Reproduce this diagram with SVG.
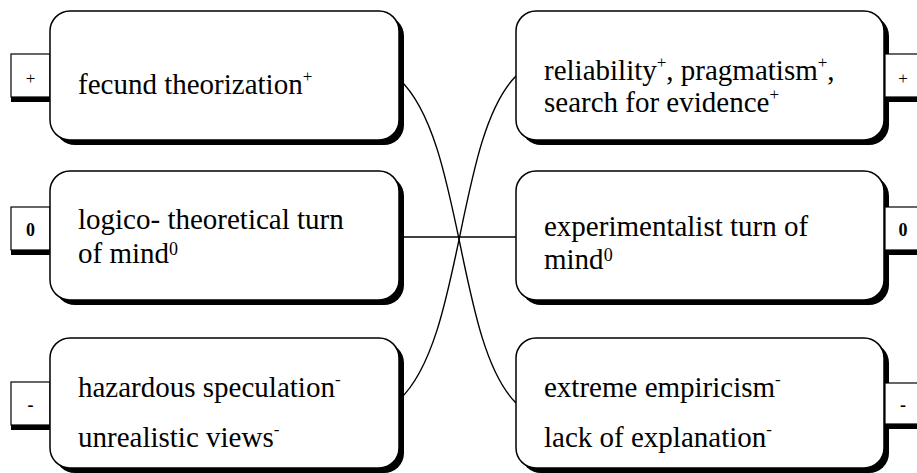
<svg xmlns="http://www.w3.org/2000/svg" width="917" height="473" viewBox="0 0 917 473">
<style>
.bg{fill:#fff}
.box{fill:#fff;stroke:#000;stroke-width:1.5}
.shd{fill:#000}
.lab{fill:#fff;stroke:#000;stroke-width:1.2}
.con{fill:none;stroke:#000;stroke-width:1.4}
text{font-family:"Liberation Serif","Times New Roman",Times,"Noto Serif","DejaVu Serif",serif;fill:#000}
.t{font-size:29px}
.sp{font-size:17px}
.s0{font-size:18px}
.l{font-size:17px;text-anchor:middle}
.b{font-weight:bold;font-size:18px}
</style>
<rect class="bg" x="0" y="0" width="917" height="473"/>
<g id="connectors">
<path class="con" d="M399,79 C464,139 456,343 516,403"/>
<path class="con" d="M399,400 C464,340 456,136 516,76"/>
<line class="con" x1="399" y1="237" x2="516" y2="237"/>
</g>
<g id="n-fecund">
<rect class="shd" x="11" y="59" width="39" height="43"/>
<rect class="lab" x="11" y="54" width="39" height="43"/>
<text class="l" x="30.5" y="84" font-family="Liberation Serif, serif">+</text>
<rect class="shd" x="55" y="16" width="349" height="129" rx="20"/>
<rect class="box" x="50" y="11" width="349" height="129" rx="20"/>
<text class="t" x="78" y="94" font-family="Liberation Serif, serif">fecund theorization<tspan class="sp" dy="-12">+</tspan></text>
</g>
<g id="n-logico">
<rect class="shd" x="11" y="212" width="39" height="43"/>
<rect class="lab" x="11" y="207" width="39" height="43"/>
<text class="l b" x="30.5" y="236" font-family="Liberation Serif, serif">0</text>
<rect class="shd" x="55" y="176" width="349" height="129" rx="20"/>
<rect class="box" x="50" y="171" width="349" height="129" rx="20"/>
<text class="t" x="78" y="229" font-family="Liberation Serif, serif">logico- theoretical turn</text>
<text class="t" x="78" y="263" font-family="Liberation Serif, serif">of mind<tspan class="s0" dy="-8">0</tspan></text>
</g>
<g id="n-hazard">
<rect class="shd" x="11" y="387" width="39" height="43"/>
<rect class="lab" x="11" y="382" width="39" height="43"/>
<text class="l b" x="30.5" y="411" font-family="Liberation Serif, serif">-</text>
<rect class="shd" x="55" y="343" width="349" height="130" rx="20"/>
<rect class="box" x="50" y="338" width="349" height="130" rx="20"/>
<text class="t" x="78" y="397" font-family="Liberation Serif, serif">hazardous speculation<tspan class="sp" dy="-12">-</tspan></text>
<text class="t" x="78" y="447" font-family="Liberation Serif, serif">unrealistic views<tspan class="sp" dy="-12">-</tspan></text>
</g>
<g id="n-reliability">
<rect class="shd" x="521" y="16" width="368" height="129" rx="20"/>
<rect class="box" x="516" y="11" width="368" height="129" rx="20"/>
<rect class="shd" x="885" y="59" width="40" height="43"/>
<rect class="lab" x="885" y="54" width="40" height="43"/>
<text class="l" x="903" y="84" font-family="Liberation Serif, serif">+</text>
<text class="t" x="544" y="80" font-family="Liberation Serif, serif">reliability<tspan class="sp" dy="-12">+</tspan><tspan dy="12">, pragmatism</tspan><tspan class="sp" dy="-12">+</tspan><tspan dy="12">,</tspan></text>
<text class="t" x="544" y="112" font-family="Liberation Serif, serif">search for evidence<tspan class="sp" dy="-12">+</tspan></text>
</g>
<g id="n-experimental">
<rect class="shd" x="521" y="176" width="368" height="129" rx="20"/>
<rect class="box" x="516" y="171" width="368" height="129" rx="20"/>
<rect class="shd" x="885" y="212" width="40" height="43"/>
<rect class="lab" x="885" y="207" width="40" height="43"/>
<text class="l b" x="903" y="236" font-family="Liberation Serif, serif">0</text>
<text class="t" x="544" y="236" font-family="Liberation Serif, serif">experimentalist turn of</text>
<text class="t" x="544" y="269" font-family="Liberation Serif, serif">mind<tspan class="s0" dy="-8">0</tspan></text>
</g>
<g id="n-empiricism">
<rect class="shd" x="521" y="343" width="368" height="130" rx="20"/>
<rect class="box" x="516" y="338" width="368" height="130" rx="20"/>
<rect class="shd" x="885" y="388" width="40" height="41"/>
<rect class="lab" x="885" y="383" width="40" height="41"/>
<text class="l b" x="903" y="411" font-family="Liberation Serif, serif">-</text>
<text class="t" x="544" y="397" font-family="Liberation Serif, serif">extreme empiricism<tspan class="sp" dy="-12">-</tspan></text>
<text class="t" x="544" y="447" font-family="Liberation Serif, serif">lack of explanation<tspan class="sp" dy="-12">-</tspan></text>
</g>
</svg>
